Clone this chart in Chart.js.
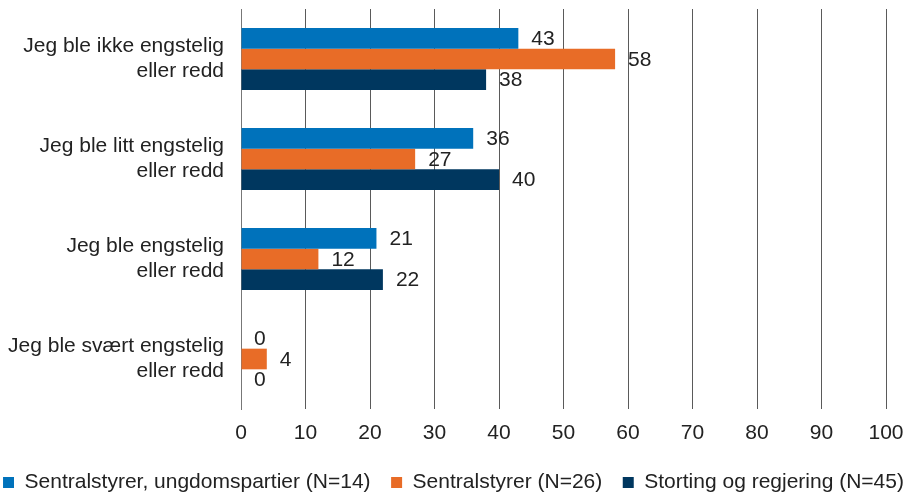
<!DOCTYPE html>
<html>
<head>
<meta charset="utf-8">
<script src="https://cdn.jsdelivr.net/npm/chart.js@4"></script>
<style>
  html, body { margin: 0; padding: 0; background: #fff; }
  #wrap { width: 907px; height: 496px; }
</style>
</head>
<body>
<div id="wrap"><canvas id="chart"></canvas></div>
<script>
// values
const categories = [
  ["Jeg ble ikke engstelig", "eller redd"],
  ["Jeg ble litt engstelig", "eller redd"],
  ["Jeg ble engstelig", "eller redd"],
  ["Jeg ble svært engstelig", "eller redd"]
];
const seriesNames = [
  "Sentralstyrer, ungdomspartier (N=14)",
  "Sentralstyrer (N=26)",
  "Storting og regjering (N=45)"
];
const ungdom = [43, 36, 21, 0];
const sentral = [58, 27, 12, 4];
const storting = [38, 40, 22, 0];
const xTicks = [0, 10, 20, 30, 40, 50, 60, 70, 80, 90, 100];

const colors = ["#0072BB", "#E86C27", "#00375F"];
const font = "'Liberation Sans', Arial, Helvetica, sans-serif";

// value labels at the end of each bar
const barLabels = {
  id: "barLabels",
  afterDatasetsDraw(chart) {
    const ctx = chart.ctx;
    ctx.save();
    ctx.font = "21px " + font;
    ctx.fillStyle = "#222";
    ctx.textAlign = "left";
    ctx.textBaseline = "middle";
    chart.data.datasets.forEach((ds, i) => {
      chart.getDatasetMeta(i).data.forEach((bar, j) => {
        ctx.fillText(ds.data[j], bar.x + 13, bar.y + 1);
      });
    });
    ctx.restore();
  }
};

new Chart(document.getElementById("chart"), {
  type: "bar",
  data: {
    labels: categories,
    datasets: [
      { label: seriesNames[0], data: ungdom, backgroundColor: colors[0] },
      { label: seriesNames[1], data: sentral, backgroundColor: colors[1] },
      { label: seriesNames[2], data: storting, backgroundColor: colors[2] }
    ]
  },
  options: {
    indexAxis: "y",
    responsive: true,
    maintainAspectRatio: false,
    animation: false,
    categoryPercentage: 0.62,
    barPercentage: 1.0,
    layout: { padding: { top: 9, bottom: -7, left: 0, right: 0 } },
    scales: {
      x: {
        min: 0,
        max: 100,
        afterBuildTicks(s) { s.ticks = xTicks.map(v => ({ value: v })); },
        afterFit(s) {
          s.height = 60;
          s.paddingLeft = 0;
          s.paddingRight = 0;
        },
        grid: { color: "#5a5a5a", lineWidth: 1, drawTicks: false },
        border: { display: false },
        ticks: { color: "#222", padding: 12, font: { family: font, size: 21 } }
      },
      y: {
        afterFit(s) {
          s.width = 241;
          s.paddingTop = 0;
          s.paddingBottom = 0;
        },
        grid: { display: false, drawTicks: false },
        border: { display: true, color: "#777", width: 1 },
        ticks: { color: "#222", padding: 17, font: { family: font, size: 21, lineHeight: 1.19 } }
      },
      yRight: {
        type: "category",
        axis: "y",
        position: "right",
        afterFit(s) {
          s.width = 21;
          s.paddingTop = 0;
          s.paddingBottom = 0;
        },
        grid: { display: false, drawTicks: false },
        border: { display: false },
        ticks: { display: false }
      }
    },
    plugins: {
      legend: {
        position: "bottom",
        labels: {
          color: "#222",
          boxWidth: 11,
          boxHeight: 11,
          padding: 3,
          font: { family: font, size: 21 },
          generateLabels(chart) {
            const items = Chart.defaults.plugins.legend.labels.generateLabels(chart);
            items.forEach((it, i) => {
              it.lineWidth = 0;
              if (i < items.length - 1) it.text = it.text + "   ";
            });
            return items;
          }
        }
      },
      tooltip: { enabled: false }
    }
  },
  plugins: [barLabels]
});
</script>
</body>
</html>
